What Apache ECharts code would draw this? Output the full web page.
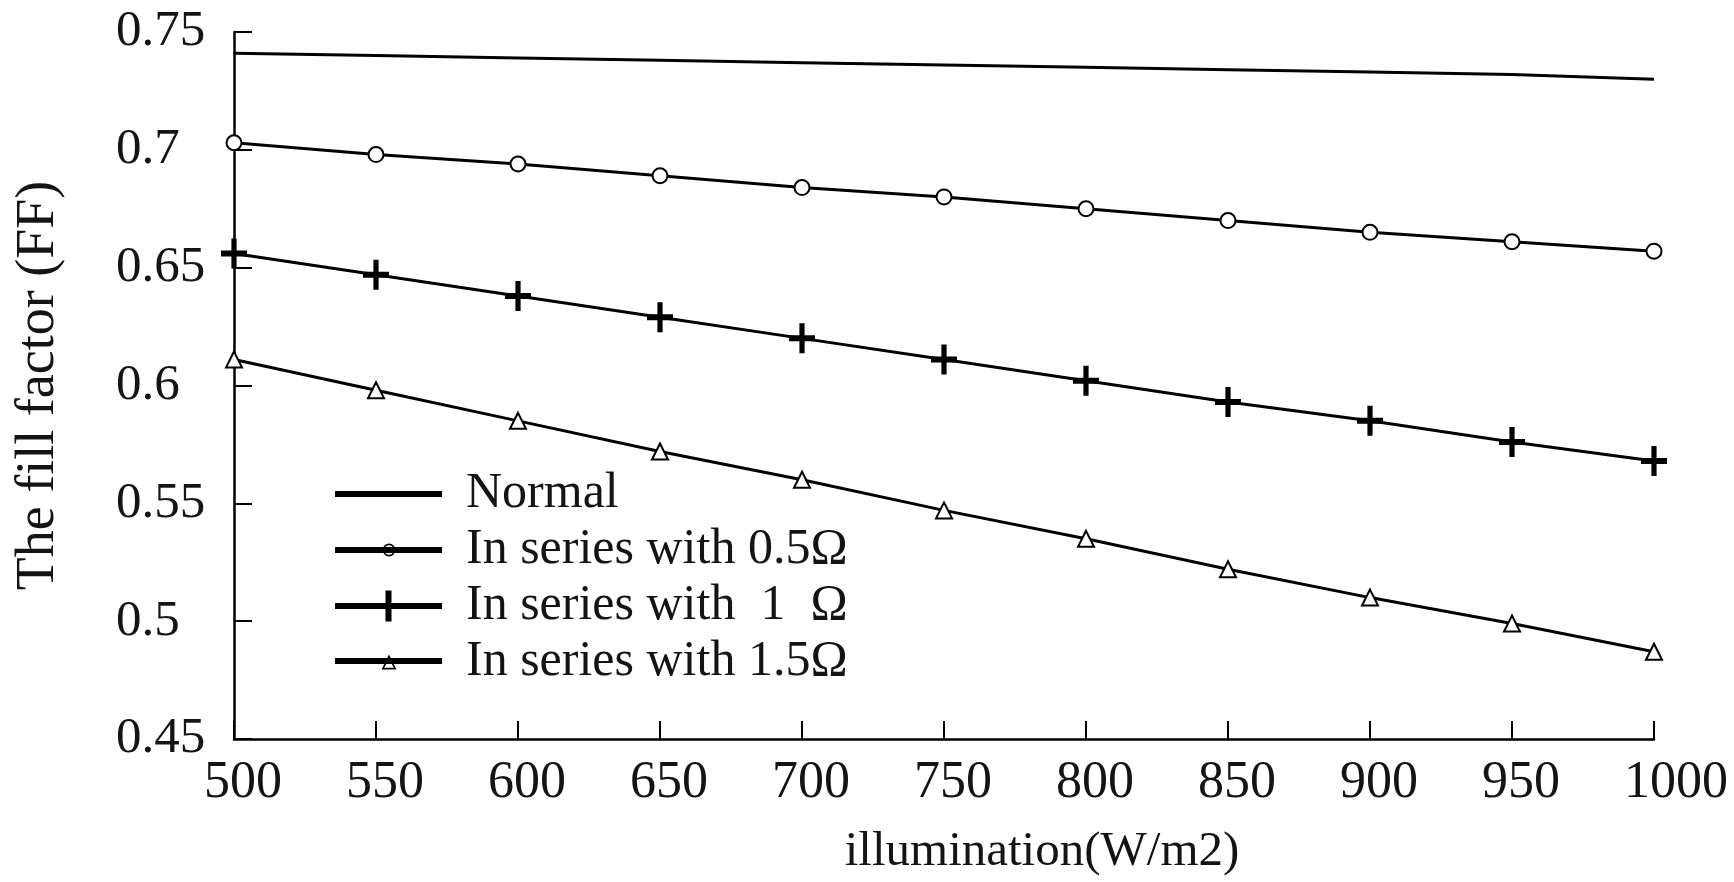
<!DOCTYPE html>
<html>
<head>
<meta charset="utf-8">
<title>Fill factor vs illumination</title>
<script src="https://cdn.jsdelivr.net/npm/echarts@6/dist/echarts.min.js"></script>
<style>
  html, body { margin: 0; padding: 0; background: #ffffff; }
  #chart { width: 1734px; height: 882px; }
</style>
</head>
<body>
<div id="chart"></div>
<script>
// Illumination levels (W/m2)
const illumination = [500, 550, 600, 650, 700, 750, 800, 850, 900, 950, 1000];

// Fill factor for each case
const ffNormal = [0.741, 0.740, 0.739, 0.738, 0.737, 0.736, 0.735, 0.734, 0.733, 0.732, 0.730];
const ffSeries05 = [0.703, 0.698, 0.694, 0.689, 0.684, 0.680, 0.675, 0.670, 0.665, 0.661, 0.657];
const ffSeries1 = [0.656, 0.647, 0.638, 0.629, 0.620, 0.611, 0.602, 0.593, 0.585, 0.576, 0.568];
const ffSeries15 = [0.611, 0.598, 0.585, 0.572, 0.560, 0.547, 0.535, 0.522, 0.510, 0.499, 0.487];

const seriesNames = [
  'Normal',
  'In series with 0.5Ω',
  'In series with  1  Ω',
  'In series with 1.5Ω'
];

// Y-axis tick values
const yTicks = [0.45, 0.5, 0.55, 0.6, 0.65, 0.7, 0.75];

const FONT = "'Liberation Serif', 'Times New Roman', serif";
const INK = '#141414';
const PLUS = 'path://M0,4 L10,4 L10,6 L0,6 Z M4,0 L6,0 L6,10 L4,10 Z';

// Legend keys: a thick stroke with the series marker drawn on it
const KEY_LINE = 'M0,12.5 H107 V18.5 H0 Z';
const legendIcons = [
  'path://' + KEY_LINE,
  'path://' + KEY_LINE +
    ' M47.5,15.5 A6.5,6.5 0 1,1 60.5,15.5 A6.5,6.5 0 1,1 47.5,15.5 Z' +
    ' M49.2,15.5 A4.8,4.8 0 1,0 58.8,15.5 A4.8,4.8 0 1,0 49.2,15.5 Z',
  'path://' + KEY_LINE + ' M50.5,0 H56.5 V31 H50.5 Z',
  'path://' + KEY_LINE +
    ' M54,9 L61.5,24 L46.5,24 Z' +
    ' M54,13 L49.2,22.2 L58.8,22.2 Z'
];

function pairs(ys) {
  return illumination.map((x, i) => [x, ys[i]]);
}

const chart = echarts.init(document.getElementById('chart'), null, { renderer: 'canvas' });

chart.setOption({
  backgroundColor: '#ffffff',
  animation: false,
  grid: { left: 234, right: 80, top: 32, bottom: 142, containLabel: false },
  legend: {
    orient: 'vertical',
    left: 330,
    top: 464,
    itemWidth: 107,
    itemHeight: 31,
    itemGap: 6,
    symbolKeepAspect: true,
    data: seriesNames.map((name, i) => ({
      name: name,
      icon: legendIcons[i],
      itemStyle: { color: '#000', borderWidth: 0 }
    })),
    textStyle: {
      fontFamily: FONT,
      fontSize: 50,
      lineHeight: 50,
      color: INK,
      padding: [0, 0, 0, 19]
    }
  },
  xAxis: {
    type: 'value',
    min: illumination[0],
    max: illumination[illumination.length - 1],
    interval: 50,
    name: 'illumination(W/m2)',
    nameLocation: 'middle',
    nameGap: 88,
    nameTextStyle: {
      fontFamily: FONT,
      fontSize: 49,
      lineHeight: 50,
      color: INK,
      padding: [0, 0, 0, 196]
    },
    axisLine: { show: true, lineStyle: { color: '#000', width: 2.5 } },
    axisTick: { show: true, inside: true, length: 18, lineStyle: { color: '#000', width: 2 } },
    splitLine: { show: false },
    axisLabel: {
      margin: 18,
      formatter: v => '{t|' + v + '}',
      rich: {
        t: { width: 60, align: 'left', fontFamily: FONT, fontSize: 52, lineHeight: 52, color: INK }
      }
    }
  },
  yAxis: {
    type: 'value',
    min: yTicks[0],
    max: yTicks[yTicks.length - 1],
    interval: 0.05,
    name: 'The fill factor (FF)',
    nameLocation: 'middle',
    nameGap: 168,
    nameTextStyle: {
      fontFamily: FONT,
      fontSize: 54,
      lineHeight: 54,
      color: INK
    },
    axisLine: { show: true, lineStyle: { color: '#000', width: 2.5 } },
    axisTick: { show: true, inside: true, length: 18, lineStyle: { color: '#000', width: 2 } },
    splitLine: { show: false },
    axisLabel: {
      margin: 118,
      align: 'left',
      fontFamily: FONT,
      fontSize: 51,
      color: INK,
      padding: [0, 0, 12, 0]
    }
  },
  series: [
    {
      name: seriesNames[0],
      type: 'line',
      data: pairs(ffNormal),
      symbol: 'none',
      lineStyle: { color: '#000', width: 3 },
      itemStyle: { color: '#000' }
    },
    {
      name: seriesNames[1],
      type: 'line',
      data: pairs(ffSeries05),
      symbol: 'emptyCircle',
      symbolSize: 15,
      lineStyle: { color: '#000', width: 3 },
      itemStyle: { color: '#000', borderColor: '#000', borderWidth: 1.8 }
    },
    {
      name: seriesNames[2],
      type: 'line',
      data: pairs(ffSeries1),
      symbol: PLUS,
      symbolSize: [26, 30],
      symbolKeepAspect: false,
      lineStyle: { color: '#000', width: 3 },
      itemStyle: { color: '#000' }
    },
    {
      name: seriesNames[3],
      type: 'line',
      data: pairs(ffSeries15),
      symbol: 'emptyTriangle',
      symbolSize: 16,
      lineStyle: { color: '#000', width: 3 },
      itemStyle: { color: '#000', borderColor: '#000', borderWidth: 1.8 }
    }
  ]
});
</script>
</body>
</html>
